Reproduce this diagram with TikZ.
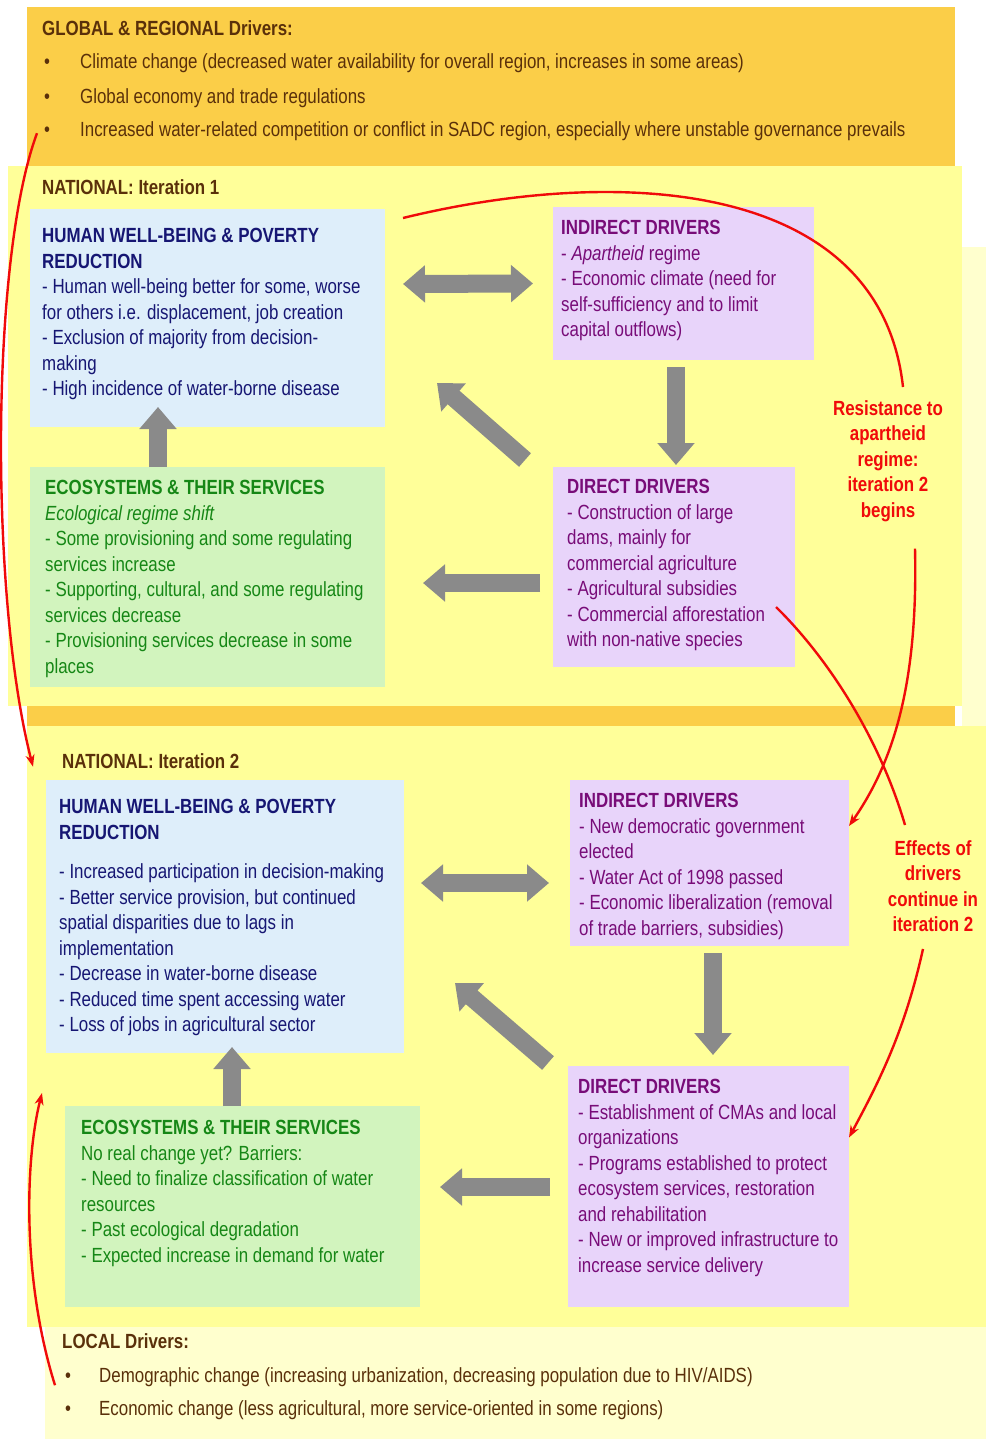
\documentclass[tikz,border=0pt]{standalone}
\usepackage{fontspec}
\setmainfont{Liberation Sans}[FakeStretch=0.824]
\usetikzlibrary{arrows.meta}

\definecolor{globorange}{RGB}{251,206,72}
\definecolor{natyellow}{RGB}{255,255,153}
\definecolor{paleyellow}{RGB}{255,255,206}
\definecolor{hwbblue}{RGB}{222,238,250}
\definecolor{ecogreen}{RGB}{210,244,190}
\definecolor{drvpurple}{RGB}{232,212,250}
\definecolor{arrowgray}{RGB}{138,138,138}
\definecolor{navytext}{RGB}{22,22,115}
\definecolor{greentext}{RGB}{22,135,22}
\definecolor{purpletext}{RGB}{120,12,120}
\definecolor{browntext}{RGB}{90,48,10}
\definecolor{linered}{RGB}{240,10,10}

\tikzset{
  panel/.style={anchor=north west,inner sep=0pt,outer sep=0pt},
  txt/.style={anchor=north west,inner sep=0pt,align=left,font=\fontsize{20.5}{25.5}\selectfont},
  drvtxt/.style={anchor=base west,inner sep=0pt,text=browntext,font=\fontsize{20.5}{25.5}\selectfont},
  dot/.style={anchor=base,inner sep=0pt,text=browntext,font=\fontsize{20.5}{25.5}\selectfont},
  bigarrow/.style={draw=arrowgray,line width=18pt,-{Triangle[length=22pt,width=36pt]}},
  dblarrow/.style={draw=arrowgray,line width=18pt,{Triangle[length=22pt,width=36pt]}-{Triangle[length=22pt,width=36pt]}},
  redline/.style={draw=linered,line width=2.4pt},
  redarrow/.style={redline,-{Stealth[length=12pt,width=9pt]}},
  redlabel/.style={anchor=north,inner sep=0pt,align=center,text=linered,font=\fontsize{20.5}{25.5}\selectfont\bfseries},
}

\begin{document}
\begin{tikzpicture}[x=1pt,y=-1pt]
\useasboundingbox (0,0) rectangle (986,1439);

\fill[globorange] (27,7) rectangle (955,166);
\fill[natyellow] (8,166) rectangle (962,706);
\fill[paleyellow] (962,247) rectangle (986,726);
\fill[globorange] (27,706) rectangle (955,726);
\fill[natyellow] (27,726) rectangle (986,1327);
\fill[paleyellow] (45,1327) rectangle (986,1439);

% global and regional drivers
\node[drvtxt] (globtitle) at (42,36) {\textbf{GLOBAL \& REGIONAL Drivers:}};
\node[dot] (gb1) at (47,69) {•};
\node[drvtxt] (gi1) at (80,69) {Climate change (decreased water availability for overall region, increases in some areas)};
\node[dot] (gb2) at (47,104) {•};
\node[drvtxt] (gi2) at (80,104) {Global economy and trade regulations};
\node[dot] (gb3) at (47,137) {•};
\node[drvtxt] (gi3) at (80,137) {Increased water-related competition or conflict in SADC region, especially where unstable governance prevails};

% national, iteration 1
\node[drvtxt] (nat1) at (42,195) {\textbf{NATIONAL: Iteration 1}};

\node[panel,fill=hwbblue,minimum width=355pt,minimum height=218pt] (hwb1) at (30,209) {};
\node[txt,text=navytext] (hwb1txt) at (42,228) {\textbf{HUMAN WELL-BEING \& POVERTY}\\\textbf{REDUCTION}\\- Human well-being better for some, worse\\for others i.e. displacement, job creation\\- Exclusion of majority from decision-\\making\\- High incidence of water-borne disease};

\node[panel,fill=drvpurple,minimum width=261pt,minimum height=153pt] (indir1) at (553,207) {};
\node[txt,text=purpletext] (indir1txt) at (561,220) {\textbf{INDIRECT DRIVERS}\\- \textit{Apartheid} regime\\- Economic climate (need for\\self-sufficiency and to limit\\capital outflows)};

\node[panel,fill=ecogreen,minimum width=355pt,minimum height=220pt] (eco1) at (30,467) {};
\node[txt,text=greentext] (eco1txt) at (45,480) {\textbf{ECOSYSTEMS \& THEIR SERVICES}\\\textit{Ecological regime shift}\\- Some provisioning and some regulating\\services increase\\- Supporting, cultural, and some regulating\\services decrease\\- Provisioning services decrease in some\\places};

\node[panel,fill=drvpurple,minimum width=242pt,minimum height=200pt] (dir1) at (553,467) {};
\node[txt,text=purpletext] (dir1txt) at (567,479) {\textbf{DIRECT DRIVERS}\\- Construction of large\\dams, mainly for\\commercial agriculture\\- Agricultural subsidies\\- Commercial afforestation\\with non-native species};

\draw[dblarrow] ([shift={(18,-34)}]hwb1.east) -- ([shift={(-20,0)}]indir1.west);
\draw[bigarrow] ([shift={(-49.5,0)}]eco1.north) -- ([shift={(-49.5,-20)}]hwb1.south);
\draw[bigarrow] ([shift={(-28,-7)}]dir1.north west) -- ([shift={(52,-44)}]hwb1.south east);
\draw[bigarrow] ([shift={(-7.5,7)}]indir1.south) -- ([shift={(2,-2)}]dir1.north);
\draw[bigarrow] ([shift={(-13,16)}]dir1.west) -- ([shift={(38,6)}]eco1.east);

\node[redlabel] (resist) at (888,400) {Resistance to\\apartheid\\regime:\\iteration 2\\begins};

% national, iteration 2
\node[drvtxt] (nat2) at (62,768) {\textbf{NATIONAL: Iteration 2}};

\node[panel,fill=hwbblue,minimum width=358pt,minimum height=273pt] (hwb2) at (46,780) {};
\node[txt,text=navytext] (hwb2txt) at (59,799) {\textbf{HUMAN WELL-BEING \& POVERTY}\\\textbf{REDUCTION}\\[14pt]- Increased participation in decision-making\\- Better service provision, but continued\\spatial disparities due to lags in\\implementation\\- Decrease in water-borne disease\\- Reduced time spent accessing water\\- Loss of jobs in agricultural sector};

\node[panel,fill=drvpurple,minimum width=279pt,minimum height=166pt] (indir2) at (570,780) {};
\node[txt,text=purpletext] (indir2txt) at (579,793) {\textbf{INDIRECT DRIVERS}\\- New democratic government\\elected\\- Water Act of 1998 passed\\- Economic liberalization (removal\\of trade barriers, subsidies)};

\node[panel,fill=ecogreen,minimum width=355pt,minimum height=201pt] (eco2) at (65,1106) {};
\node[txt,text=greentext] (eco2txt) at (81,1120) {\textbf{ECOSYSTEMS \& THEIR SERVICES}\\No real change yet? Barriers:\\- Need to finalize classification of water\\resources\\- Past ecological degradation\\- Expected increase in demand for water};

\node[panel,fill=drvpurple,minimum width=281pt,minimum height=241pt] (dir2) at (568,1066) {};
\node[txt,text=purpletext] (dir2txt) at (578,1079) {\textbf{DIRECT DRIVERS}\\- Establishment of CMAs and local\\organizations\\- Programs established to protect\\ecosystem services, restoration\\and rehabilitation\\- New or improved infrastructure to\\increase service delivery};

\draw[dblarrow] ([shift={(17,-33.5)}]hwb2.east) -- ([shift={(-21,20)}]indir2.west);
\draw[bigarrow] ([shift={(-10.5,0)}]eco2.north) -- ([shift={(7,-6)}]hwb2.south);
\draw[bigarrow] ([shift={(-20,-3)}]dir2.north west) -- ([shift={(51,-70)}]hwb2.south east);
\draw[bigarrow] ([shift={(3.5,7)}]indir2.south) -- ([shift={(4.5,-11)}]dir2.north);
\draw[bigarrow] ([shift={(-18,0.5)}]dir2.west) -- ([shift={(20,-19.5)}]eco2.east);

\node[redlabel] (effects) at (933,840) {Effects of\\drivers\\continue in\\iteration 2};

% local drivers
\node[drvtxt] (localtitle) at (62,1348) {\textbf{LOCAL Drivers:}};
\node[dot] (lb1) at (68,1382) {•};
\node[drvtxt] (li1) at (99,1382) {Demographic change (increasing urbanization, decreasing population due to HIV/AIDS)};
\node[dot] (lb2) at (68,1415) {•};
\node[drvtxt] (li2) at (99,1415) {Economic change (less agricultural, more service-oriented in some regions)};

% red links
\draw[redarrow] ([shift={(-10,1)}]gb3.center) .. controls (-10,260) and (-10,600) .. ([shift={(-29,6)}]nat2.west);
\draw[redarrow] ([shift={(-13,8)}]lb1.center) .. controls (22,1280) and (25,1160) .. ([shift={(-23,-13)}]eco2.north west);
\draw[redline] ([shift={(18,9)}]hwb1.north east) .. controls (620,165) and (880,180) .. ([shift={(15,-13)}]resist.north);
\draw[redarrow] ([shift={(27,27)}]resist.south) .. controls (918,680) and (895,760) .. ([shift={(0,-37)}]indir2.east);
\draw[redline] ([shift={(-19,40)}]dir1.east) .. controls (830,660) and (880,740) .. ([shift={(-28,-15)}]effects.north);
\draw[redarrow] ([shift={(-10,17)}]effects.south) .. controls (905,1030) and (880,1080) .. ([shift={(0,-49)}]dir2.east);

\end{tikzpicture}
\end{document}
